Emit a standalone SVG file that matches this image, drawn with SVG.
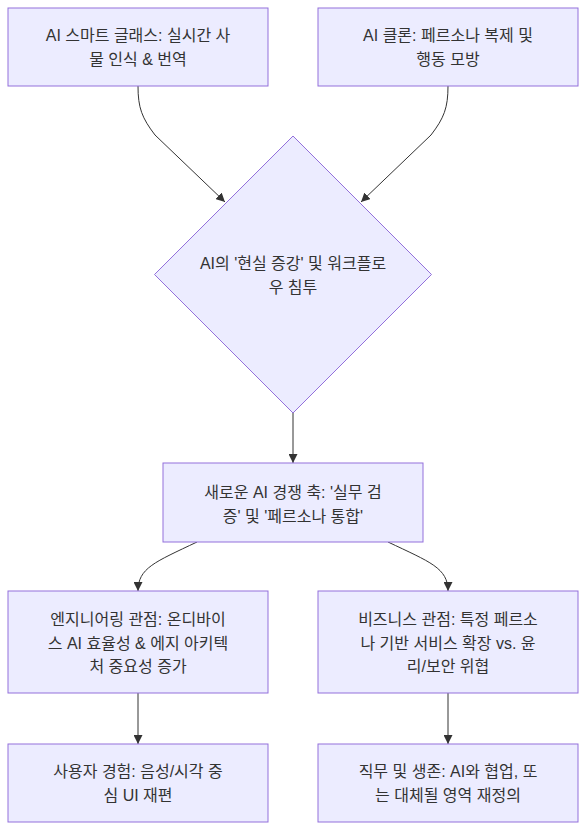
<svg xmlns="http://www.w3.org/2000/svg" width="586" height="830" viewBox="0 0 586 830">
<style>
.node rect,.node polygon{fill:#ECECFF;stroke:#9370DB;stroke-width:1}
.node text{font-family:"Liberation Sans","Noto Sans CJK KR",sans-serif;font-size:16px;fill:#333;text-anchor:middle;dominant-baseline:central}
.edges path{fill:none;stroke:#333;stroke-width:1}
</style>
<defs>
<marker id="arrow" viewBox="0 0 10 10" refX="10" refY="5" markerUnits="userSpaceOnUse" markerWidth="9" markerHeight="9" orient="auto">
<path d="M0,0 L10,5 L0,10 z" fill="#333"/>
</marker>
</defs>
<rect width="586" height="830" fill="#fff"/>
<g class="edges">
<path d="M138,86 C138,108 142,118 155,135 L225,202" marker-end="url(#arrow)"/>
<path d="M448,86 C448,108 444,118 431,135 L361,202" marker-end="url(#arrow)"/>
<path d="M293,413 L293,463" marker-end="url(#arrow)"/>
<path d="M197,542 C155,562 138,568 138,591" marker-end="url(#arrow)"/>
<path d="M388,542 C430,562 448,568 448,591" marker-end="url(#arrow)"/>
<path d="M138,693 L138,744" marker-end="url(#arrow)"/>
<path d="M448,693 L448,744" marker-end="url(#arrow)"/>
</g>
<g id="n1" class="node">
<rect x="8" y="8" width="260" height="78"/>
<text x="138" y="35">AI 스마트 글래스: 실시간 사</text>
<text x="138" y="59">물 인식 &amp; 번역</text>
</g>
<g id="n2" class="node">
<rect x="318" y="8" width="260" height="78"/>
<text x="448" y="35">AI 클론: 페르소나 복제 및</text>
<text x="448" y="59">행동 모방</text>
</g>
<g id="n3" class="node">
<polygon points="293,136 431.5,274.5 293,413 154.5,274.5"/>
<text x="293" y="263">AI의 '현실 증강' 및 워크플로</text>
<text x="293" y="287">우 침투</text>
</g>
<g id="n4" class="node">
<rect x="163" y="463" width="260" height="79"/>
<text x="293" y="492">새로운 AI 경쟁 축: '실무 검</text>
<text x="293" y="516">증' 및 '페르소나 통합'</text>
</g>
<g id="n5" class="node">
<rect x="8" y="591" width="260" height="102"/>
<text x="138" y="619">엔지니어링 관점: 온디바이</text>
<text x="138" y="643">스 AI 효율성 &amp; 에지 아키텍</text>
<text x="138" y="666">처 중요성 증가</text>
</g>
<g id="n6" class="node">
<rect x="318" y="591" width="260" height="102"/>
<text x="448" y="619">비즈니스 관점: 특정 페르소</text>
<text x="448" y="643">나 기반 서비스 확장 vs. 윤</text>
<text x="448" y="666">리/보안 위협</text>
</g>
<g id="n7" class="node">
<rect x="8" y="744" width="260" height="78"/>
<text x="138" y="771">사용자 경험: 음성/시각 중</text>
<text x="138" y="795">심 UI 재편</text>
</g>
<g id="n8" class="node">
<rect x="318" y="744" width="260" height="78"/>
<text x="448" y="771">직무 및 생존: AI와 협업, 또</text>
<text x="448" y="795">는 대체될 영역 재정의</text>
</g>
</svg>
